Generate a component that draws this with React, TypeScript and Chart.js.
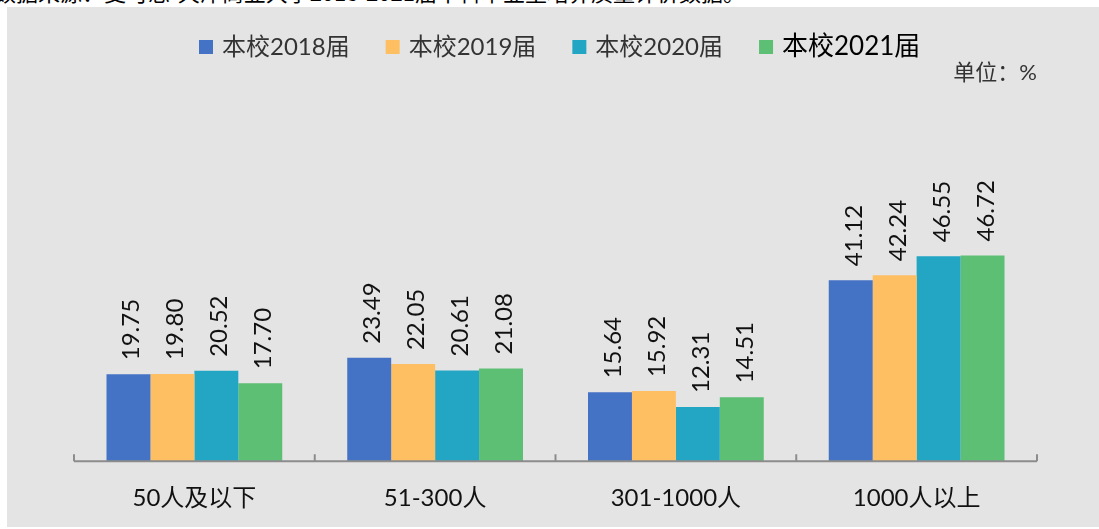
import React, { useEffect, useRef } from "react";
import { Chart, registerables } from "chart.js";

Chart.register(...registerables);

const categories = ["50人及以下", "51-300人", "301-1000人", "1000人以上"];
const seriesNames = ["本校2018届", "本校2019届", "本校2020届", "本校2021届"];
const values2018 = [19.75, 23.49, 15.64, 41.12];
const values2019 = [19.8, 22.05, 15.92, 42.24];
const values2020 = [20.52, 20.61, 12.31, 46.55];
const values2021 = [17.7, 21.08, 14.51, 46.72];
const seriesColors = ["#4472C4", "#FEBF63", "#22A6C4", "#5CBF74"];
const unitLabel = "单位：%";
const sourceNote = "数据来源：麦可思-天津商业大学2018-2021届本科毕业生培养质量评价数据。";

const FONT = "Lato, 'Noto Sans CJK SC', sans-serif";

const customPlugin = {
  id: "custom",
  afterDatasetsDraw(chart: any) {
    const ctx = chart.ctx;
    // data labels
    ctx.save();
    ctx.font = `24px ${FONT}`;
    ctx.fillStyle = "#111";
    ctx.textAlign = "left";
    ctx.textBaseline = "alphabetic";
    chart.data.datasets.forEach((ds: any, di: number) => {
      const meta = chart.getDatasetMeta(di);
      meta.data.forEach((bar: any, i: number) => {
        const v = ds.data[i];
        ctx.save();
        ctx.translate(bar.x + 11, bar.y - 14);
        ctx.rotate(-Math.PI / 2);
        ctx.fillText(v.toFixed(2), 0, 0);
        ctx.restore();
      });
    });
    ctx.restore();

    // axis line and upward ticks
    const area = chart.chartArea;
    ctx.save();
    ctx.strokeStyle = "#8C8C8C";
    ctx.lineWidth = 2;
    ctx.beginPath();
    ctx.moveTo(area.left, area.bottom);
    ctx.lineTo(area.right, area.bottom);
    const n = categories.length;
    for (let i = 0; i <= n; i++) {
      const x = area.left + (i * (area.right - area.left)) / n;
      ctx.moveTo(x, area.bottom);
      ctx.lineTo(x, area.bottom - 7);
    }
    ctx.stroke();
    ctx.restore();

    // legend
    ctx.save();
    ctx.textBaseline = "middle";
    ctx.textAlign = "left";
    let x = 192;
    const y = 40;
    seriesNames.forEach((name, i) => {
      const last = i === seriesNames.length - 1;
      ctx.fillStyle = seriesColors[i];
      ctx.fillRect(x, y - 7, 14, 14);
      ctx.font = `${last ? 26 : 24}px ${FONT}`;
      ctx.fillStyle = last ? "#000" : "#333";
      ctx.fillText(name, x + 23, y);
      x += 23 + ctx.measureText(name).width + 36;
    });
    // unit
    ctx.font = `22px ${FONT}`;
    ctx.fillStyle = "#333";
    ctx.textAlign = "right";
    ctx.fillText(unitLabel, 1030, 66);
    ctx.restore();
  },
};

export default function App() {
  const ref = useRef<HTMLCanvasElement | null>(null);
  useEffect(() => {
    if (!ref.current) return;
    const data = [values2018, values2019, values2020, values2021];
    const chart = new Chart(ref.current, {
      type: "bar",
      data: {
        labels: categories,
        datasets: seriesNames.map((name, i) => ({
          label: name,
          data: data[i],
          backgroundColor: seriesColors[i],
          borderWidth: 0,
          categoryPercentage: 0.73,
          barPercentage: 1,
        })),
      },
      options: {
        responsive: false,
        animation: false,
        devicePixelRatio: 1,
        layout: { padding: { left: 67, right: 62, top: 102, bottom: -1 } },
        plugins: {
          legend: { display: false },
          title: { display: false },
          tooltip: { enabled: false },
        },
        scales: {
          x: {
            grid: { display: false },
            border: { display: false },
            ticks: {
              padding: 15,
              color: "#111",
              font: { family: FONT, size: 24 },
            },
          },
          y: {
            display: false,
            min: 0,
            max: 80,
          },
        },
      },
      plugins: [customPlugin],
    });
    return () => chart.destroy();
  }, []);

  return (
    <div style={{ position: "absolute", left: 0, top: 0, width: 1099, height: 529, background: "#fff", overflow: "hidden" }}>
      <div
        style={{
          position: "absolute",
          left: -6,
          top: -20,
          height: 23,
          whiteSpace: "nowrap",
          fontFamily: "'Noto Sans CJK SC', sans-serif",
          fontSize: 22,
          lineHeight: "23px",
          color: "#000",
        }}
      >
        {sourceNote}
      </div>
      <div style={{ position: "absolute", left: 7, top: 7, width: 1092, height: 520, background: "#E4E4E4" }}>
        <canvas ref={ref} width={1092} height={520} style={{ display: "block" }} />
      </div>
    </div>
  );
}
